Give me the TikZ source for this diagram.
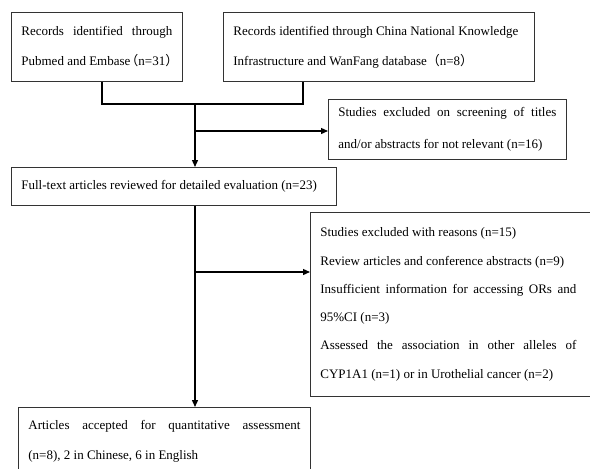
\documentclass[tikz,border=0pt]{standalone}
\usepackage{fontspec}
\setmainfont{Liberation Serif}
\newfontfamily\cjk{Noto Sans CJK SC}
\usetikzlibrary{arrows.meta}
\newcommand{\lpar}{\makebox[8pt][r]{\cjk （}}
\newcommand{\rpar}{\makebox[8pt][l]{\cjk ）}}
\begin{document}
\begin{tikzpicture}[x=1pt,y=-1pt,
  box/.style={draw=black!80, line width=0.8pt, inner xsep=10pt, inner ysep=0pt,
    anchor=north west, align=justify},
  conn/.style={line width=1.3pt, black},
  arr/.style={conn, -{Triangle[length=7pt,width=6pt]}}]
\useasboundingbox (0,0) rectangle (590,469);
\clip (0,0) rectangle (590,469);
% boxes
\node[box, text width=151pt, minimum height=69pt,
  font=\fontsize{13}{30}\selectfont] (b1) at (11,12)
  {Records identified through\linebreak \mbox{Pubmed and Embase\lpar n=31\rpar}};
\node[box, text width=291pt, minimum height=69pt,
  font=\fontsize{13}{30}\selectfont] (b2) at (223,12)
  {Records identified through China National Knowledge\newline Infrastructure and WanFang database{\cjk （}n=8{\cjk ）}};
\node[box, text width=218pt, minimum height=60pt,
  font=\fontsize{13}{32}\selectfont] (s1) at (328,99)
  {Studies excluded on screening of titles\linebreak and/or abstracts for not relevant (n=16)};
\node[box, text width=305pt, minimum height=38pt,
  font=\fontsize{13}{30}\selectfont] (b3) at (11,167)
  {Full-text articles reviewed for detailed evaluation (n=23)};
\node[box, minimum width=290pt, minimum height=184pt] (s2) at (310,212)
  {\begin{minipage}{256pt}\fontsize{13}{28.3}\selectfont
   Studies excluded with reasons (n=15)\newline
   Review articles and conference abstracts (n=9)\newline
   Insufficient information for accessing ORs and\linebreak
   95\%CI (n=3)\newline
   Assessed the association in other alleles of\linebreak
   CYP1A1 (n=1) or in Urothelial cancer (n=2)\end{minipage}\hspace*{14pt}};
\node[box, text width=272pt, minimum height=68pt,
  font=\fontsize{13}{30}\selectfont] (b5) at (18,407)
  {Articles accepted for quantitative assessment\linebreak (n=8), 2 in Chinese, 6 in English};
% connector points
\coordinate (jl) at (102,104);
\coordinate (jr) at (303,104);
\coordinate (m1) at (195,104);
\coordinate (m2) at (195,272);
\coordinate (m3) at (195,131);
% connectors
\draw[conn] (b1.south -| jl) -- (jl) -- (jr) -- (b2.south -| jr);
\draw[arr] (m1) -- (b3.north -| m1);
\draw[arr] (m3) -- (m3 -| s1.west);
\draw[arr] (b3.south -| m1) -- (b5.north -| m1);
\draw[arr] (m2) -- (m2 -| s2.west);
\end{tikzpicture}
\end{document}
